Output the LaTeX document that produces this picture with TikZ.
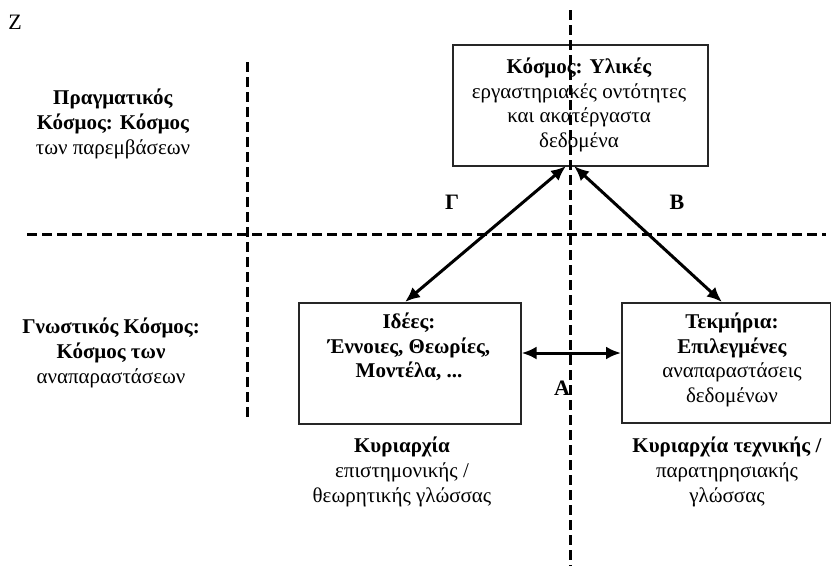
\documentclass[tikz,border=0pt]{standalone}
\usepackage{fontspec}
\setmainfont{Liberation Serif}
\usetikzlibrary{arrows.meta}
\begin{document}
\begin{tikzpicture}[x=1pt,y=-1pt,
  txt/.style={align=center,font=\fontsize{21}{24.8}\selectfont,inner sep=0pt},
  boxed/.style={draw=black!85,line width=1.6pt},
  divider/.style={line width=3pt,dash pattern=on 10pt off 5pt},
  conn/.style={line width=3pt,{Latex[length=15pt,width=13pt]}-{Latex[length=15pt,width=13pt]}},
  lbl/.style={font=\fontsize{22}{24}\selectfont\bfseries,inner sep=0pt}]
\useasboundingbox (0,0) rectangle (831,566);
% boxes
\node[boxed,minimum width=255pt,minimum height=121pt,anchor=north west,inner sep=0pt] (world) at (452,44) {};
\node[boxed,minimum width=222pt,minimum height=121pt,anchor=north west,inner sep=0pt] (ideas) at (298,302) {};
\node[boxed,minimum width=209pt,minimum height=120pt,anchor=north west,inner sep=0pt] (evid) at (621,302) {};
% dividers
\coordinate (vct) at (570,10);
\coordinate (vcb) at (570,566);
\coordinate (vlt) at (247,62);
\coordinate (vlb) at (247,418);
\coordinate (hl) at (27,234);
\coordinate (hr) at (826,234);
\draw[divider] (vct) -- (vcb);
\draw[divider] (vlt) -- (vlb);
\draw[divider] (hl) -- (hr);
% texts
\node[txt] (worldtxt) at (579,105) {\textbf{Κόσμος: Υλικές}\\εργαστηριακές οντότητες\\και ακατέργαστα\\δεδομένα};
\node[txt] (ideastxt) at (409,347) {\textbf{Ιδέες:}\\\textbf{Έννοιες, Θεωρίες,}\\\textbf{Μοντέλα, ...}};
\node[txt] (evidtxt) at (732,360) {\textbf{Τεκμήρια:}\\\textbf{Επιλεγμένες}\\αναπαραστάσεις\\δεδομένων};
\node[txt] (real) at (113,124) {\textbf{Πραγματικός}\\\textbf{Κόσμος: Κόσμος}\\των παρεμβάσεων};
\node[txt] (cogn) at (111,353) {\textbf{Γνωστικός Κόσμος:}\\\textbf{Κόσμος των}\\αναπαραστάσεων};
\node[txt] (domsci) at (402,472) {\textbf{Κυριαρχία}\\επιστημονικής /\\θεωρητικής γλώσσας};
\node[txt] (domtech) at (727,472) {\textbf{Κυριαρχία τεχνικής /}\\παρατηρησιακής\\γλώσσας};
\node[font=\fontsize{22}{24}\selectfont,inner sep=0pt] (z) at (15,22) {Z};
% connectors
\coordinate (wl) at (566,166);
\coordinate (wr) at (574,166);
\coordinate (il) at (405,302);
\coordinate (er) at (722,302);
\draw[conn] (wl) -- (il);
\draw[conn] (wr) -- (er);
\draw[conn] (ideas.east |- 0,353) -- (evid.west |- 0,353);
\node[lbl] (g) at (452,202) {Γ};
\node[lbl] (b) at (677,202) {Β};
\node[lbl] (a) at (562,388) {Α};
\end{tikzpicture}
\end{document}
